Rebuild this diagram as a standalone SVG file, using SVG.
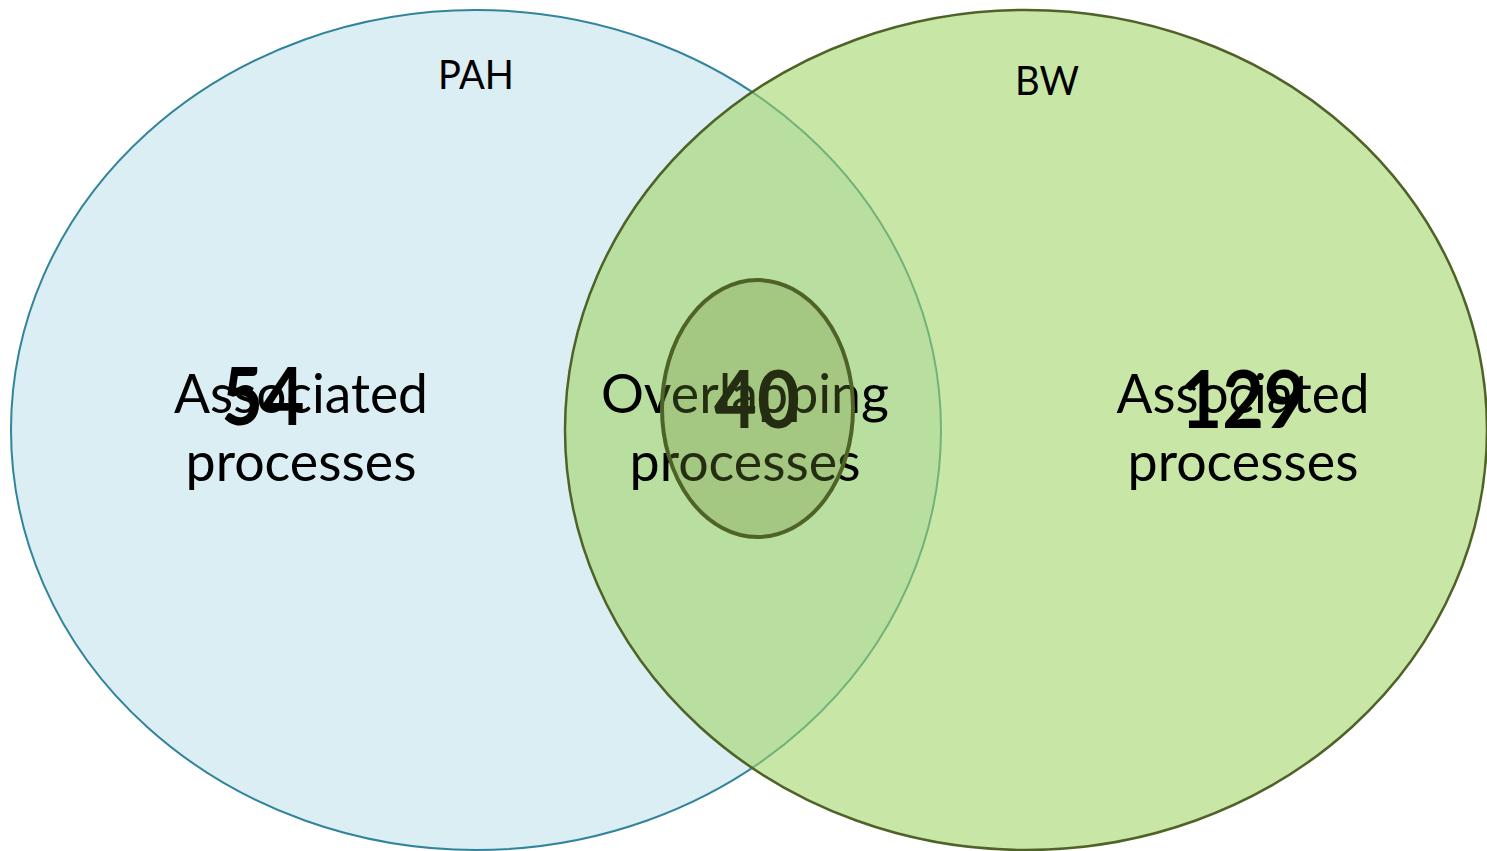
<svg xmlns="http://www.w3.org/2000/svg" width="1487" height="851" viewBox="0 0 1487 851">
<style>
.lbl{font-family:Lato,"Liberation Sans",sans-serif;fill:#000;text-anchor:middle}
.big{font-size:54px}
.set{font-size:40px}
.num{font-size:80px;font-weight:bold}
</style>
<rect width="1487" height="851" fill="#ffffff"/>
<g id="PAH">
<ellipse cx="476" cy="430" rx="465" ry="420" fill="#DAEEF3" stroke="#31849B" stroke-width="2"/>
</g>
<g id="BW">
<ellipse cx="1026" cy="430" rx="461" ry="420" fill="#A0D464" fill-opacity="0.58" stroke="#4F6228" stroke-width="2.5"/>
</g>
<g id="labels">
<text class="lbl set" x="476" y="89" textLength="76" lengthAdjust="spacingAndGlyphs">PAH</text>
<text class="lbl set" x="1047" y="95" textLength="64" lengthAdjust="spacingAndGlyphs">BW</text>
<text class="lbl big" x="301" y="413" textLength="254" lengthAdjust="spacingAndGlyphs">Associated</text>
<text class="lbl big" x="301" y="481" textLength="231" lengthAdjust="spacingAndGlyphs">processes</text>
<text class="lbl num" x="263" y="425" textLength="83" lengthAdjust="spacingAndGlyphs">54</text>
<text class="lbl big" x="1243" y="413" textLength="253" lengthAdjust="spacingAndGlyphs">Associated</text>
<text class="lbl big" x="1243" y="481" textLength="231" lengthAdjust="spacingAndGlyphs">processes</text>
<text class="lbl num" x="1243" y="428" textLength="125" lengthAdjust="spacingAndGlyphs">129</text>
<text class="lbl big" x="745" y="413" textLength="288" lengthAdjust="spacingAndGlyphs">Overlapping</text>
<text class="lbl big" x="745" y="481" textLength="231" lengthAdjust="spacingAndGlyphs">processes</text>
<text class="lbl num" x="757" y="428" textLength="86" lengthAdjust="spacingAndGlyphs">40</text>
</g>
<g id="overlap">
<ellipse cx="757.5" cy="408.5" rx="95.5" ry="128.5" fill="#76923C" fill-opacity="0.3" stroke="#4F6228" stroke-width="4"/>
</g>
</svg>
